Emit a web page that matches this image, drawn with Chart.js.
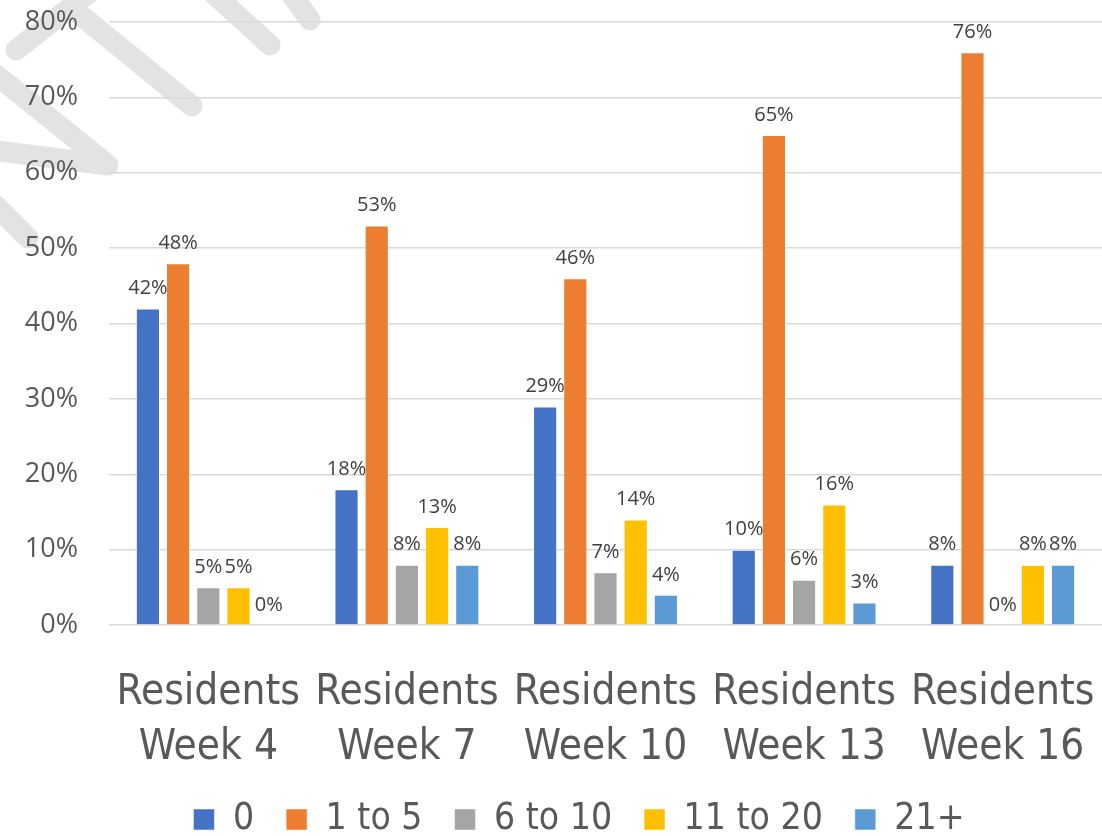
<!DOCTYPE html>
<html>
<head>
<meta charset="utf-8">
<title>Residents by week</title>
<script src="https://cdn.jsdelivr.net/npm/chart.js@4"></script>
<style>
    html, body { margin: 0; padding: 0; background: #fff; }
    #wrap { width: 1102px; height: 836px; }
</style>
</head>
<body>
<div id="wrap"><canvas id="residentsChart"></canvas></div>
<script>
// chart data
const weeks = [['Residents', 'Week 4'], ['Residents', 'Week 7'], ['Residents', 'Week 10'], ['Residents', 'Week 13'], ['Residents', 'Week 16']];
const groupNames = ['0', '1 to 5', '6 to 10', '11 to 20', '21+'];
const groupColors = ['#4472C4', '#ED7D31', '#A5A5A5', '#FFC000', '#5B9BD5'];
const zeroValues = [42, 18, 29, 10, 8];
const oneToFive = [48, 53, 46, 65, 76];
const sixToTen = [5, 8, 7, 6, 0];
const elevenToTwenty = [5, 13, 14, 16, 8];
const twentyOnePlus = [0, 8, 4, 3, 8];
const yTicks = [0, 10, 20, 30, 40, 50, 60, 70, 80];

const allSeries = [zeroValues, oneToFive, sixToTen, elevenToTwenty, twentyOnePlus];

const narrowFont = "'Liberation Sans Narrow', 'DejaVu Sans Condensed', 'Roboto', sans-serif";
const labelFont = "'Open Sans', 'Noto Sans', sans-serif";

// light grey "draft" strokes behind the chart
const watermarkPlugin = {
    id: 'watermark',
    beforeDraw: function (chart) {
        const ctx = chart.ctx;
        ctx.save();
        ctx.strokeStyle = '#e3e3e3';
        ctx.lineWidth = 21;
        ctx.lineCap = 'round';
        ctx.lineJoin = 'round';
        const strokes = [
            [[16, 50], [90, -8]],
            [[72, 8], [192, 106]],
            [[215, -5], [270, 45]],
            [[292, -5], [310, 20]],
            [[-10, 70], [108, 165], [-10, 150]],
            [[-5, 205], [28, 238]]
        ];
        strokes.forEach(function (pts) {
            ctx.beginPath();
            ctx.moveTo(pts[0][0], pts[0][1]);
            for (let i = 1; i < pts.length; i++) {
                ctx.lineTo(pts[i][0], pts[i][1]);
            }
            ctx.stroke();
        });
        ctx.restore();
    }
};

// the legend sits a little right of centre in the original
const legendShiftPlugin = {
    id: 'legendShift',
    afterLayout: function (chart) {
        if (chart.legend) {
            chart.legend.left += 28;
            chart.legend.right += 28;
        }
    }
};

// percentage labels above every bar
const barLabelPlugin = {
    id: 'barLabels',
    afterDatasetsDraw: function (chart) {
        const ctx = chart.ctx;
        ctx.save();
        ctx.font = '20px ' + labelFont;
        ctx.fillStyle = '#404040';
        ctx.textAlign = 'center';
        ctx.textBaseline = 'bottom';
        chart.data.datasets.forEach(function (ds, i) {
            const meta = chart.getDatasetMeta(i);
            meta.data.forEach(function (bar, j) {
                ctx.fillText(ds.data[j] + '%', bar.x, bar.y - 10);
            });
        });
        ctx.restore();
    }
};

const ctx = document.getElementById('residentsChart').getContext('2d');

new Chart(ctx, {
    type: 'bar',
    data: {
        labels: weeks,
        datasets: allSeries.map(function (values, i) {
            return {
                label: groupNames[i],
                data: values,
                backgroundColor: groupColors[i],
                borderColor: 'rgba(255,255,255,0.5)',
                borderWidth: 1,
                categoryPercentage: 0.76,
                barPercentage: 0.8
            };
        })
    },
    options: {
        responsive: true,
        maintainAspectRatio: false,
        animation: false,
        layout: {
            padding: { left: 0, right: 0, top: 22, bottom: -12 }
        },
        scales: {
            x: {
                grid: { display: false, drawTicks: false },
                border: { display: false },
                ticks: {
                    color: '#595959',
                    font: { family: narrowFont, size: 42, lineHeight: 1.3 },
                    padding: 41,
                    maxRotation: 0,
                    autoSkip: false
                },
                afterFit: function (axis) {
                    axis.paddingLeft = 0;
                    axis.paddingRight = 0;
                    axis.height = 144;
                }
            },
            y: {
                min: 0,
                max: 80,
                afterBuildTicks: function (axis) {
                    axis.ticks = yTicks.map(function (v) { return { value: v }; });
                },
                afterFit: function (axis) {
                    axis.paddingTop = 0;
                    axis.paddingBottom = 0;
                    axis.width = 109;
                },
                grid: { color: '#d9d9d9', lineWidth: 1.5, drawTicks: false },
                border: { display: false },
                ticks: {
                    color: '#595959',
                    font: { family: labelFont, size: 27 },
                    padding: 31,
                    callback: function (v) { return v + '%'; }
                }
            }
        },
        plugins: {
            legend: {
                position: 'bottom',
                labels: {
                    color: '#595959',
                    font: { family: narrowFont, size: 37 },
                    boxWidth: 21,
                    boxHeight: 21,
                    padding: 32
                }
            },
            tooltip: { enabled: false }
        }
    },
    plugins: [watermarkPlugin, legendShiftPlugin, barLabelPlugin]
});
</script>
</body>
</html>
